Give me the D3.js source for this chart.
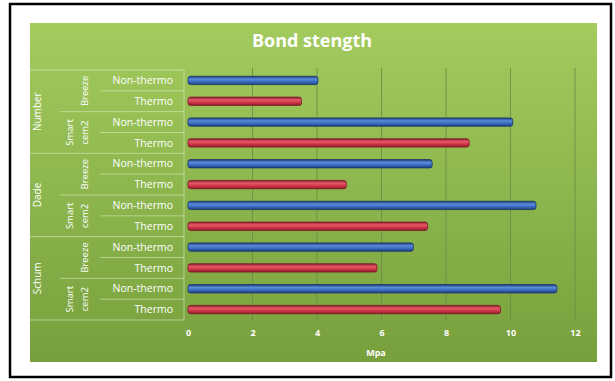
<!DOCTYPE html>
<html><head><meta charset="utf-8">
<script src="https://cdn.jsdelivr.net/npm/d3@7"></script>
<style>body{margin:0;background:#fff}svg{display:block}text{font-family:"Open Sans",sans-serif;fill:#fff}</style>
</head><body><svg id="c" width="615" height="381"></svg>
<script>
// Data
const groups = ["Number", "Dade", "Schum"];
const subgroups = ["Breeze", "Smart cem2"];
const leaves = ["Non-thermo", "Thermo"];
const values = [
  4.03, 3.52, 10.07, 8.72,   // Number: Breeze NT, Breeze T, Smart NT, Smart T
  7.57, 4.91, 10.79, 7.43,   // Dade
  6.99, 5.86, 11.44, 9.69    // Schum
];
const xTicks = [0, 2, 4, 6, 8, 10, 12];
const title = "Bond stength";
const xTitle = "Mpa";

const rows = [];
groups.forEach((g, gi) => subgroups.forEach((s, si) => leaves.forEach((l, li) => {
  const idx = gi * 4 + si * 2 + li;
  rows.push({id: idx, group: g, sub: s, leaf: l, value: values[idx]});
})));

const svg = d3.select("#c");
const defs = svg.append("defs");
const bg = defs.append("linearGradient").attr("id", "bg").attr("x1", 0).attr("y1", 0).attr("x2", 0).attr("y2", 1);
bg.append("stop").attr("offset", "0%").attr("stop-color", "#a3cb5e");
bg.append("stop").attr("offset", "100%").attr("stop-color", "#77a03d");
function cyl(id, dark, mid, light) {
  const g = defs.append("linearGradient").attr("id", id).attr("x1", 0).attr("y1", 0).attr("x2", 0).attr("y2", 1);
  g.append("stop").attr("offset", "0%").attr("stop-color", dark);
  g.append("stop").attr("offset", "35%").attr("stop-color", light);
  g.append("stop").attr("offset", "65%").attr("stop-color", mid);
  g.append("stop").attr("offset", "100%").attr("stop-color", dark);
}
cyl("gBlue", "#1d3f7c", "#3a6cc0", "#5a8ad8");
cyl("gRed", "#8e1e2c", "#cf3547", "#e45a68");

// frame + panel
svg.append("rect").attr("x", 10).attr("y", 4).attr("width", 601).attr("height", 373)
  .attr("fill", "#fff").attr("stroke", "#000").attr("stroke-width", 2.5);
svg.append("rect").attr("x", 30).attr("y", 23).attr("width", 567).attr("height", 339).attr("fill", "url(#bg)");

svg.append("text").attr("x", 312).attr("y", 47).attr("text-anchor", "middle")
  .attr("font-size", 18).attr("font-weight", 700).text(title);

const x = d3.scaleLinear().domain([0, 12]).range([188, 575]);
const y = d3.scaleBand().domain(rows.map(d => d.id)).range([70, 320]).paddingInner(0.6).paddingOuter(0.3);
const bandStep = y.step();
const top0 = 70, bot0 = 320;

// gridlines
svg.append("g").selectAll("line").data(xTicks.filter(t => t > 0)).join("line")
  .attr("x1", d => x(d)).attr("x2", d => x(d)).attr("y1", top0 - 2).attr("y2", bot0)
  .attr("stroke", "#6b8a45").attr("stroke-width", 1).attr("opacity", 0.8);

// x axis ticks labels
const xAxis = d3.axisBottom(x).tickValues(xTicks).tickSize(0).tickPadding(0);
const xg = svg.append("g").attr("transform", `translate(0,${bot0 + 10})`).call(xAxis);
xg.select(".domain").remove();
xg.selectAll("text").attr("font-size", 9).attr("font-weight", 700).attr("fill", "#f4f8ec")
  .style("font-family", "'Open Sans',sans-serif").attr("dy", "0.7em");
svg.append("text").attr("x", 376).attr("y", 356).attr("text-anchor", "middle")
  .attr("font-size", 9).attr("font-weight", 700).text(xTitle);

// category axis lines
const axisCol = "rgba(225,240,200,0.55)";
svg.append("line").attr("x1", x(0) - 4).attr("x2", x(0) - 4).attr("y1", top0).attr("y2", bot0)
  .attr("stroke", axisCol);
// separators
const seps = [];
for (let i = 0; i <= rows.length; i++) {
  let x1;
  if (i % 4 === 0) x1 = 30; else if (i % 2 === 0) x1 = 60; else x1 = 100;
  seps.push({yy: top0 + i * bandStep, x1});
}
svg.append("g").selectAll("line").data(seps).join("line")
  .attr("x1", d => d.x1).attr("x2", x(0) - 4).attr("y1", d => d.yy).attr("y2", d => d.yy)
  .attr("stroke", axisCol).attr("stroke-width", 1);

// leaf labels
svg.append("g").selectAll("text").data(rows).join("text")
  .attr("x", 173).attr("y", d => y(d.id) + y.bandwidth() / 2).attr("dy", "0.35em")
  .attr("text-anchor", "end").attr("font-size", 10.5).attr("fill", "#f2f7ea").text(d => d.leaf);

// subgroup labels
const subRows = [];
groups.forEach((g, gi) => subgroups.forEach((s, si) => subRows.push({gi, si, s, cy: top0 + (gi * 4 + si * 2 + 1) * bandStep})));
subRows.forEach(d => {
  const parts = d.s.split(" ");
  const t = svg.append("text").attr("transform", `translate(0,${d.cy}) rotate(-90)`)
    .attr("text-anchor", "middle").attr("font-size", 9.5).attr("fill", "#f2f7ea");
  if (parts.length === 1) {
    t.append("tspan").attr("x", 0).attr("y", 88).text(parts[0]);
  } else {
    t.append("tspan").attr("x", 0).attr("y", 73).text(parts[0]);
    t.append("tspan").attr("x", 0).attr("y", 88).text(parts[1]);
  }
});

// group labels
groups.forEach((g, gi) => {
  const cy = top0 + (gi * 4 + 2) * bandStep;
  svg.append("text").attr("transform", `translate(41,${cy}) rotate(-90)`)
    .attr("text-anchor", "middle").attr("font-size", 10).attr("fill", "#f2f7ea").text(g);
});

// bars
svg.append("g").selectAll("rect").data(rows).join("rect")
  .attr("x", x(0)).attr("y", d => y(d.id)).attr("height", y.bandwidth())
  .attr("width", d => x(d.value) - x(0)).attr("rx", 2.5).attr("ry", 2.5)
  .attr("fill", d => d.leaf === "Thermo" ? "url(#gRed)" : "url(#gBlue)")
  .attr("stroke", d => d.leaf === "Thermo" ? "#7a1a26" : "#1a3468").attr("stroke-width", 0.8);
</script></body></html>
